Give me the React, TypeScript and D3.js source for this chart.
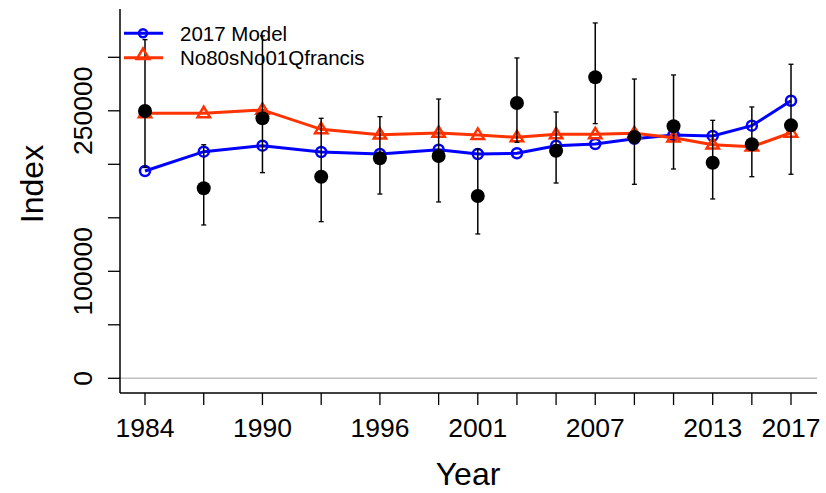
import React from "react";
import * as d3 from "d3";

const years = [1984, 1987, 1990, 1993, 1996, 1999, 2001, 2003, 2005, 2007, 2009, 2011, 2013, 2015, 2017];
const obs = [249800, 177600, 243000, 188400, 205600, 207800, 170400, 257300, 212700, 281300, 225500, 235500, 201500, 218700, 236400];
const obsLow = [197000, 143300, 192200, 146400, 172200, 164800, 134900, 220600, 182500, 238000, 181300, 195600, 167600, 188400, 190700];
const obsHigh = [316500, 218300, 320000, 243000, 244500, 261000, 214300, 299400, 248900, 332100, 279700, 283500, 241100, 253600, 293500];
const model2017 = [193700, 211800, 217400, 211500, 209600, 213700, 209600, 210300, 217400, 219000, 223900, 227400, 226500, 236100, 259400];
const altModel = [247700, 247700, 250800, 232700, 227700, 229300, 227400, 225200, 228000, 228000, 229000, 224900, 218300, 216500, 229500];
const xTickLabels = [1984, 1990, 1996, 2001, 2007, 2013, 2017];
const yTicks = [0, 50000, 100000, 150000, 200000, 250000, 300000];
const yTickLabels = [0, 100000, 250000];
const seriesNames = ["2017 Model", "No80sNo01Qfrancis"];

const BLUE = "#0000ff";
const RED = "#ff3300";
const FONT = "'Liberation Sans', Arial, sans-serif";

export default function App() {
  const W = 826, H = 493;
  const x = d3.scaleLinear().domain([1984, 2017]).range([145, 791]);
  const y = d3.scaleLinear().domain([0, 300000]).range([378.3, 57.3]);
  const left = 120, right = 817, top = 9, bottom = 393;

  const line = d3.line<number>().x((_, i) => x(years[i])).y((d) => y(d));

  const tri = (cx: number, cy: number, s = 6.5) =>
    `M${cx},${cy - s}L${cx + s * 0.95},${cy + s * 0.6}L${cx - s * 0.95},${cy + s * 0.6}Z`;

  return (
    <svg width={W} height={H} style={{ position: "absolute", left: 0, top: 0, background: "#fff" }}>
      <rect width={W} height={H} fill="#fff" />
      {/* zero line */}
      <line x1={left} x2={right} y1={y(0)} y2={y(0)} stroke="#c0c0c0" strokeWidth={1.5} />

      {/* axes */}
      <line x1={left} x2={left} y1={top} y2={bottom} stroke="#000" strokeWidth={1.5} />
      <line x1={left} x2={right} y1={bottom} y2={bottom} stroke="#000" strokeWidth={1.5} />
      {yTicks.map((t) => (
        <line key={"yt" + t} x1={left - 12} x2={left} y1={y(t)} y2={y(t)} stroke="#000" strokeWidth={1.3} />
      ))}
      {yTickLabels.map((t) => (
        <text key={"yl" + t} transform={`translate(92,${y(t)}) rotate(-90)`} textAnchor="middle"
          fontFamily={FONT} fontSize={26.5} fill="#000">{t}</text>
      ))}
      {years.map((yr) => (
        <line key={"xt" + yr} x1={x(yr)} x2={x(yr)} y1={bottom} y2={bottom + 12} stroke="#000" strokeWidth={1.3} />
      ))}
      {xTickLabels.map((yr) => (
        <text key={"xl" + yr} x={x(yr)} y={437} textAnchor="middle" fontFamily={FONT} fontSize={26.5} fill="#000">{yr}</text>
      ))}
      <text x={468} y={485} textAnchor="middle" fontFamily={FONT} fontSize={32} fill="#000">Year</text>
      <text transform={`translate(43,184) rotate(-90)`} textAnchor="middle" fontFamily={FONT} fontSize={32} fill="#000">Index</text>

      {/* model lines */}
      <path d={line(model2017) || ""} fill="none" stroke={BLUE} strokeWidth={3} />
      {model2017.map((v, i) => (
        <circle key={"bc" + i} cx={x(years[i])} cy={y(v)} r={5} fill="none" stroke={BLUE} strokeWidth={2.5} />
      ))}
      <path d={line(altModel) || ""} fill="none" stroke={RED} strokeWidth={3} />
      {altModel.map((v, i) => (
        <path key={"rt" + i} d={tri(x(years[i]), y(v))} fill="none" stroke={RED} strokeWidth={2.5} />
      ))}

      {/* observations */}
      {obs.map((v, i) => {
        const cx = x(years[i]);
        return (
          <g key={"ob" + i}>
            <line x1={cx} x2={cx} y1={y(obsLow[i])} y2={y(obsHigh[i])} stroke="#000" strokeWidth={1.5} />
            <line x1={cx - 2.5} x2={cx + 2.5} y1={y(obsLow[i])} y2={y(obsLow[i])} stroke="#000" strokeWidth={1.3} />
            <line x1={cx - 2.5} x2={cx + 2.5} y1={y(obsHigh[i])} y2={y(obsHigh[i])} stroke="#000" strokeWidth={1.3} />
            <circle cx={cx} cy={y(v)} r={7} fill="#000" />
          </g>
        );
      })}

      {/* legend */}
      <line x1={124} x2={163} y1={33.3} y2={33.3} stroke={BLUE} strokeWidth={3} />
      <circle cx={143} cy={33.3} r={4} fill="none" stroke={BLUE} strokeWidth={2.5} />
      <text x={180} y={40.5} fontFamily={FONT} fontSize={20.5} fill="#000">{seriesNames[0]}</text>
      <line x1={124} x2={163} y1={57.7} y2={57.7} stroke={RED} strokeWidth={3} />
      <path d={tri(143, 55)} fill="none" stroke={RED} strokeWidth={2.5} />
      <text x={180} y={65} fontFamily={FONT} fontSize={20.5} fill="#000">{seriesNames[1]}</text>
    </svg>
  );
}
